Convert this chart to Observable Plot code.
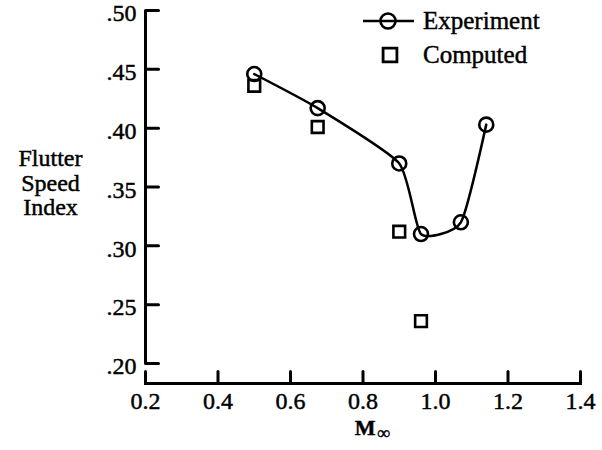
<!DOCTYPE html>
<html>
<head>
<meta charset="utf-8">
<script src="https://cdn.jsdelivr.net/npm/d3@7"></script>
<script src="https://cdn.jsdelivr.net/npm/@observablehq/plot@0.6"></script>
<style>
  html, body { margin: 0; padding: 0; background: #fff; }
  #chart { position: relative; width: 602px; height: 450px; }
  #chart svg { display: block; }
  #chart svg text { stroke: #000; stroke-width: 0.45px; }
</style>
</head>
<body>
<div id="chart"></div>
<script>
// ---- data ----
const xTicks = [0.2, 0.4, 0.6, 0.8, 1.0, 1.2, 1.4];
const yTicks = [0.20, 0.25, 0.30, 0.35, 0.40, 0.45, 0.50];
const expMach = [0.5, 0.675, 0.9, 0.96, 1.07, 1.14];
const expFSI  = [0.446, 0.417, 0.370, 0.310, 0.320, 0.403];
const compMach = [0.5, 0.675, 0.9, 0.96];
const compFSI  = [0.436, 0.401, 0.312, 0.236];
const yLabel = "Flutter\nSpeed\nIndex";
const xLabelMain = "M";
const xLabelSub = "\u221E";
const legendLabels = ["Experiment", "Computed"];

const experiment = expMach.map((m, i) => ({mach: m, fsi: expFSI[i]}));
const computed = compMach.map((m, i) => ({mach: m, fsi: compFSI[i]}));

const font = "'Liberation Serif', 'Times New Roman', serif";
const xDomain = [xTicks[0], xTicks[xTicks.length - 1]];
const yDomain = [yTicks[0], yTicks[yTicks.length - 1]];

// plain straight tick shape for vectors (no arrowhead)
const tickShape = {draw(context, l) { context.moveTo(0, 0); context.lineTo(0, -l); }};

const plot = Plot.plot({
  width: 602,
  height: 450,
  marginLeft: 145,
  marginRight: 22,
  marginTop: 10,
  marginBottom: 67,
  style: {fontFamily: font, fontSize: "24px", color: "#000", background: "#fff", overflow: "visible"},
  x: {domain: xDomain, range: [145, 580]},
  y: {domain: yDomain, range: [363, 10]},
  marks: [
    // axes lines
    Plot.ruleX([xDomain[0]], {y1: yDomain[0], y2: yDomain[1], stroke: "#000", strokeWidth: 3}),
    Plot.frame({anchor: "bottom", stroke: "#000", strokeWidth: 3}),
    // inward ticks
    Plot.vector(yTicks, {y: d => d, frameAnchor: "left", length: 13, rotate: 90, anchor: "start", shape: tickShape, stroke: "#000", strokeWidth: 3}),
    Plot.vector(xTicks, {x: d => d, frameAnchor: "bottom", length: 12, rotate: 0, anchor: "start", shape: tickShape, stroke: "#000", strokeWidth: 3}),
    // tick labels
    Plot.axisY({ticks: yTicks, tickSize: 0, tickPadding: 9, dy: 3, tickFormat: d => d.toFixed(2).slice(1), fontSize: 24, label: null}),
    Plot.axisX({ticks: xTicks, tickSize: 0, tickPadding: 8, tickFormat: d => d.toFixed(1), fontSize: 24, label: null}),
    // axis titles
    Plot.text([yLabel], {frameAnchor: "left", dx: -95, dy: -14, lineHeight: 1.02, textAnchor: "middle", fontSize: 24, fill: "#000"}),
    Plot.text([xLabelMain], {frameAnchor: "bottom", dx: 2, dy: 51, fontSize: 22, fill: "#000", fontWeight: "bold"}),
    Plot.text([xLabelSub], {frameAnchor: "bottom", dx: 21, dy: 55, fontSize: 18, fill: "#000", fontWeight: "bold"}),
    // data
    Plot.line(experiment, {x: "mach", y: "fsi", curve: d3.curveCardinal.tension(0.45), stroke: "#000", strokeWidth: 2.5}),
    Plot.dot(experiment, {x: "mach", y: "fsi", r: 7, stroke: "#000", strokeWidth: 2.6, fill: "none"}),
    Plot.dot(computed, {x: "mach", y: "fsi", symbol: "square", r: 6.6, stroke: "#000", strokeWidth: 2.6, fill: "none"})
  ]
});

document.getElementById("chart").appendChild(plot);

// ---- legend (drawn into the plot's svg) ----
const svg = d3.select(plot);
const lg = svg.append("g").attr("class", "legend")
  .attr("font-family", font).attr("font-size", 25).attr("fill", "#000").attr("text-anchor", "start");
const row1 = lg.append("g").attr("transform", "translate(388,21)");
row1.append("line").attr("x1", -25).attr("x2", 26).attr("stroke", "#000").attr("stroke-width", 2.5);
row1.append("circle").attr("r", 7.5).attr("fill", "none").attr("stroke", "#000").attr("stroke-width", 2.6);
row1.append("text").attr("x", 35).attr("dy", "0.3em").text(legendLabels[0]);
const row2 = lg.append("g").attr("transform", "translate(390,55)");
row2.append("path").attr("d", d3.symbol(d3.symbolSquare, 7.8 * 7.8 * Math.PI)()).attr("fill", "none").attr("stroke", "#000").attr("stroke-width", 2.8);
row2.append("text").attr("x", 33).attr("dy", "0.3em").text(legendLabels[1]);
</script>
</body>
</html>
